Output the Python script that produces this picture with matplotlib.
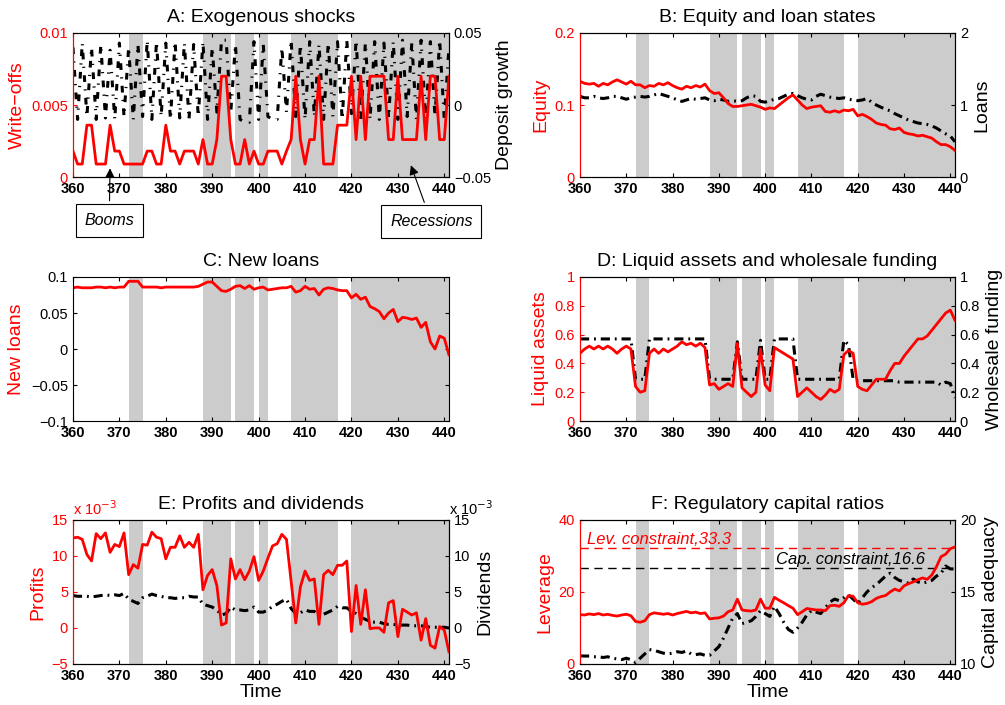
import matplotlib
matplotlib.use('Agg')
import matplotlib.pyplot as plt
import numpy as np

plt.rcParams['font.family'] = ['Liberation Sans', 'DejaVu Sans']
plt.rcParams['xtick.direction'] = 'in'
plt.rcParams['ytick.direction'] = 'in'
plt.rcParams['xtick.major.size'] = 3
plt.rcParams['ytick.major.size'] = 3

# data
time = np.arange(360, 442)
recessions = [(372, 375), (388, 394), (395, 399), (400, 402), (407, 417), (420, 441)]

write_offs = [0.0018, 0.0009, 0.0009, 0.0036, 0.0036, 0.0009, 0.0009, 0.0009, 0.0036, 0.0018,
              0.0018, 0.0009, 0.0009, 0.0009, 0.0009, 0.0009, 0.0018, 0.0018, 0.0009, 0.0009,
              0.0036, 0.0018, 0.0018, 0.0009, 0.0018, 0.0018, 0.0018, 0.0009, 0.0026, 0.0009,
              0.0009, 0.0026, 0.0070, 0.0070, 0.0026, 0.0009, 0.0009, 0.0026, 0.0009, 0.0018,
              0.0009, 0.0009, 0.0018, 0.0018, 0.0018, 0.0009, 0.0018, 0.0026, 0.0070, 0.0026,
              0.0009, 0.0026, 0.0026, 0.0070, 0.0009, 0.0009, 0.0009, 0.0036, 0.0036, 0.0036,
              0.0070, 0.0026, 0.0070, 0.0026, 0.0070, 0.0070, 0.0070, 0.0070, 0.0026, 0.0026,
              0.0070, 0.0026, 0.0026, 0.0026, 0.0026, 0.0070, 0.0026, 0.0070, 0.0070, 0.0026,
              0.0026, 0.0070]
deposit_growth = [0.040, -0.010, 0.043, -0.008, 0.040, -0.010, 0.042, -0.009, 0.038, -0.010,
                  0.043, -0.008, 0.040, -0.010, 0.042, -0.008, 0.045, -0.010, 0.044, -0.008,
                  0.043, -0.010, 0.044, -0.009, 0.043, -0.010, 0.042, -0.008, 0.044, -0.010,
                  0.040, -0.005, 0.045, 0.045, -0.005, 0.042, -0.010, -0.012, -0.012, 0.044,
                  -0.010, 0.042, -0.008, -0.010, -0.010, 0.040, -0.005, 0.045, -0.008, 0.042,
                  -0.010, 0.044, -0.008, 0.042, -0.010, 0.043, -0.008, 0.044, -0.010, 0.045,
                  -0.006, 0.045, -0.010, 0.043, -0.010, 0.044, -0.010, 0.043, -0.009, 0.044,
                  -0.010, 0.045, -0.008, 0.043, -0.010, 0.045, -0.010, 0.044, -0.008, 0.045,
                  -0.010, 0.040]

equity = [0.133, 0.130, 0.129, 0.130, 0.126, 0.130, 0.128, 0.132, 0.135, 0.132,
          0.129, 0.133, 0.128, 0.128, 0.124, 0.127, 0.126, 0.130, 0.128, 0.131,
          0.127, 0.124, 0.122, 0.126, 0.124, 0.127, 0.125, 0.129, 0.120, 0.116,
          0.117, 0.110, 0.102, 0.098, 0.098, 0.099, 0.100, 0.101, 0.099, 0.097,
          0.094, 0.096, 0.095, 0.100, 0.105, 0.110, 0.114, 0.107, 0.100, 0.095,
          0.097, 0.098, 0.099, 0.091, 0.090, 0.092, 0.090, 0.093, 0.092, 0.094,
          0.085, 0.087, 0.084, 0.080, 0.075, 0.073, 0.072, 0.067, 0.066, 0.068,
          0.062, 0.060, 0.059, 0.057, 0.058, 0.056, 0.054, 0.049, 0.045, 0.045,
          0.042, 0.037]
loans = [1.12, 1.10, 1.10, 1.12, 1.10, 1.09, 1.10, 1.12, 1.12, 1.10,
         1.08, 1.10, 1.11, 1.12, 1.11, 1.12, 1.14, 1.16, 1.14, 1.12,
         1.10, 1.07, 1.05, 1.07, 1.09, 1.08, 1.09, 1.10, 1.07, 1.06,
         1.08, 1.07, 1.05, 1.06, 1.05, 1.06, 1.10, 1.13, 1.12, 1.05,
         1.04, 1.06, 1.08, 1.09, 1.12, 1.15, 1.16, 1.13, 1.10, 1.08,
         1.07, 1.12, 1.15, 1.13, 1.11, 1.10, 1.09, 1.10, 1.08, 1.07,
         1.06, 1.07, 1.09, 1.04, 1.00, 0.97, 0.94, 0.92, 0.88, 0.85,
         0.82, 0.79, 0.77, 0.75, 0.74, 0.73, 0.71, 0.68, 0.64, 0.60,
         0.57, 0.49]

new_loans = [0.085, 0.086, 0.085, 0.085, 0.085, 0.086, 0.086, 0.085, 0.086, 0.085,
             0.086, 0.086, 0.094, 0.094, 0.094, 0.086, 0.086, 0.086, 0.086, 0.085,
             0.086, 0.086, 0.086, 0.086, 0.086, 0.086, 0.086, 0.087, 0.090, 0.093,
             0.093, 0.087, 0.081, 0.080, 0.083, 0.087, 0.088, 0.084, 0.088, 0.083,
             0.085, 0.086, 0.082, 0.083, 0.084, 0.085, 0.085, 0.087, 0.079, 0.081,
             0.087, 0.083, 0.084, 0.075, 0.083, 0.085, 0.084, 0.082, 0.081, 0.081,
             0.071, 0.076, 0.069, 0.072, 0.059, 0.056, 0.052, 0.042, 0.050, 0.055,
             0.038, 0.044, 0.043, 0.041, 0.043, 0.030, 0.037, 0.010, 0.000, 0.018,
             0.015, -0.008]

liquid_assets = [0.47, 0.50, 0.52, 0.50, 0.52, 0.50, 0.52, 0.50, 0.47, 0.50,
                 0.52, 0.50, 0.24, 0.20, 0.21, 0.47, 0.50, 0.47, 0.50, 0.48,
                 0.50, 0.52, 0.55, 0.53, 0.54, 0.52, 0.54, 0.51, 0.25, 0.26,
                 0.22, 0.24, 0.26, 0.24, 0.54, 0.23, 0.20, 0.17, 0.20, 0.50,
                 0.25, 0.21, 0.51, 0.49, 0.47, 0.45, 0.43, 0.17, 0.20, 0.23,
                 0.20, 0.17, 0.15, 0.18, 0.22, 0.20, 0.22, 0.46, 0.49, 0.47,
                 0.24, 0.22, 0.21, 0.25, 0.29, 0.29, 0.29, 0.35, 0.40, 0.40,
                 0.45, 0.49, 0.53, 0.57, 0.57, 0.59, 0.63, 0.67, 0.71, 0.75,
                 0.77, 0.70]
wholesale = [0.57, 0.57, 0.57, 0.57, 0.57, 0.57, 0.57, 0.57, 0.57, 0.57,
             0.57, 0.57, 0.29, 0.29, 0.29, 0.57, 0.57, 0.57, 0.57, 0.57,
             0.57, 0.57, 0.57, 0.57, 0.57, 0.57, 0.57, 0.57, 0.29, 0.29,
             0.29, 0.29, 0.29, 0.29, 0.55, 0.29, 0.29, 0.29, 0.29, 0.56,
             0.29, 0.29, 0.57, 0.57, 0.57, 0.57, 0.57, 0.29, 0.29, 0.29,
             0.29, 0.29, 0.29, 0.29, 0.29, 0.29, 0.29, 0.56, 0.53, 0.29,
             0.28, 0.28, 0.28, 0.28, 0.28, 0.28, 0.28, 0.28, 0.28, 0.27,
             0.27, 0.27, 0.27, 0.27, 0.27, 0.27, 0.27, 0.27, 0.25, 0.27,
             0.26, 0.16]

profits_e3 = [12.5, 12.6, 12.3, 10.2, 9.3, 13.1, 12.4, 13.2, 10.5, 11.6,
              11.3, 13.2, 7.4, 8.8, 8.3, 11.6, 11.5, 13.3, 12.6, 12.4,
              9.6, 11.2, 11.2, 12.8, 11.2, 11.9, 11.2, 13.0, 5.3, 7.3,
              8.1, 5.9, 0.4, 0.7, 9.6, 6.8, 8.1, 6.7, 7.9, 9.9,
              6.6, 7.9, 9.7, 11.4, 11.7, 13.0, 12.3, 6.5, 0.7, 5.7,
              7.9, 6.6, 6.8, 0.5, 7.4, 8.0, 7.4, 8.7, 8.7, 9.3,
              -0.5, 5.9, 0.5, 5.3, -0.1, 0.0, 0.0, -0.6, 3.5, 3.8,
              -1.2, 2.6, 2.2, 1.8, 2.1, -1.7, 1.3, -2.4, -2.8, 0.2,
              -0.3, -3.3]
dividends_e3 = [4.5, 4.4, 4.4, 4.4, 4.3, 4.4, 4.5, 4.6, 4.5, 4.6,
                4.5, 4.8, 4.0, 3.7, 3.4, 4.2, 4.4, 4.7, 4.5, 4.4,
                4.2, 4.2, 4.1, 4.2, 4.2, 4.4, 4.3, 4.3, 3.3, 3.1,
                2.9, 2.5, 1.8, 2.0, 2.9, 2.5, 2.5, 2.4, 2.5, 2.9,
                2.2, 2.2, 2.5, 3.0, 3.3, 3.7, 4.0, 2.7, 2.0, 2.1,
                2.5, 2.3, 2.3, 1.5, 1.9, 2.2, 2.5, 3.0, 2.8, 2.8,
                2.3, 2.0, 1.5, 1.2, 0.9, 0.8, 0.8, 0.6, 0.5, 0.5,
                0.4, 0.4, 0.4, 0.3, 0.3, 0.3, 0.2, 0.1, 0.1, 0.1,
                0.1, 0.0]

leverage = [13.7, 13.6, 13.9, 13.7, 14.0, 13.6, 13.8, 13.5, 13.3, 13.6,
            13.8, 13.4, 11.8, 11.6, 12.0, 13.7, 14.2, 14.0, 13.8, 14.0,
            13.6, 14.0, 14.3, 14.6, 14.2, 14.4, 14.0, 14.2, 12.5, 12.7,
            12.8, 13.3, 14.5, 15.0, 18.0, 15.0, 14.8, 14.7, 15.0, 18.0,
            15.5, 15.5, 18.5, 17.7, 17.0, 16.2, 15.5, 13.7, 14.5, 15.4,
            15.2, 15.0, 15.0, 14.8, 16.2, 16.3, 16.0, 17.0, 19.0, 18.8,
            17.0, 16.6, 16.8, 17.3, 18.2, 18.7, 19.0, 20.0, 20.8, 20.3,
            21.7, 22.3, 22.8, 23.4, 23.9, 23.5, 24.7, 27.0, 29.8, 30.5,
            32.0, 32.5]
capital_adequacy = [10.56, 10.55, 10.55, 10.50, 10.50, 10.45, 10.50, 10.40, 10.35, 10.30,
                    10.40, 10.30, 10.10, 10.40, 10.70, 11.00, 10.95, 10.85, 10.75, 10.70,
                    10.75, 10.85, 10.80, 10.90, 10.70, 10.65, 10.70, 10.60, 10.60, 10.90,
                    11.20, 11.80, 12.50, 13.20, 13.50, 12.80, 12.90, 13.00, 13.30, 13.70,
                    13.50, 13.30, 14.00, 13.50, 12.90, 12.40, 12.20, 12.50, 12.90, 13.40,
                    13.70, 13.60, 13.50, 13.90, 14.30, 14.50, 14.40, 14.60, 14.80, 14.50,
                    14.20, 14.60, 15.00, 15.30, 15.50, 15.80, 16.10, 16.30, 16.00, 15.80,
                    15.70, 15.60, 15.90, 15.70, 15.60, 15.70, 15.80, 16.10, 16.30, 16.80,
                    16.60, 16.60]
lev_line = 32.3
cap_line = 16.65

RED = '#ff0000'
GREY = '#cccccc'
DASHDOT = (0, (3, 1.6, 0.6, 1.6))
TITLE_FS = 14
LABEL_FS = 14
TICK_FS = 10.5

fig = plt.figure(figsize=(10.05, 7.05), dpi=100)

lefts = [0.0726, 0.5771]
widths = [0.3741, 0.3731]
bottoms = [0.7489, 0.4028, 0.0582]
height = 0.2043


def make_axes(row, col, title, left_label, right_label=None):
    ax = fig.add_axes([lefts[col], bottoms[row], widths[col], height])
    ax.set_xlim(360, 441)
    ax.set_xticks(range(360, 441, 10))
    ax.tick_params(axis='x', labelsize=TICK_FS, top=True)
    for lbl in ax.get_xticklabels():
        lbl.set_fontweight('bold')
    ax.set_title(title, fontsize=TITLE_FS, pad=8)
    ax.set_ylabel(left_label, fontsize=LABEL_FS, color=RED, labelpad=4)
    ax2 = None
    back = ax
    if right_label is not None:
        ax2 = ax.twinx()
        ax2.set_xlim(360, 441)
        ax2.set_ylabel(right_label, fontsize=LABEL_FS, color='black', labelpad=4)
        ax2.tick_params(axis='y', labelsize=TICK_FS)
        ax.tick_params(axis='y', labelsize=TICK_FS, colors=RED)
        ax2.spines['left'].set_color(RED)
        ax.spines['left'].set_color(RED)
        # red series on top of the black one, shading at the back
        ax.set_zorder(ax2.get_zorder() + 1)
        ax.patch.set_visible(False)
        ax2.patch.set_visible(True)
        ax2.patch.set_facecolor('white')
        back = ax2
    else:
        ax.tick_params(axis='y', labelsize=TICK_FS, right=True)
    for a, b in recessions:
        back.axvspan(a, b, color=GREY, lw=0, zorder=0)
    return ax, ax2


# A: Exogenous shocks
ax, ax2 = make_axes(0, 0, 'A: Exogenous shocks', 'Write\u2212offs', 'Deposit growth')
ax2.plot(time, deposit_growth, color='black', lw=2.2, ls=(0, (2.2, 2.4, 0.4, 2.4)))
ax.plot(time, write_offs, color=RED, lw=2)
ax.set_ylim(0, 0.01)
ax.set_yticks([0, 0.005, 0.01], ['0', '0.005', '0.01'])
ax2.set_ylim(-0.05, 0.05)
ax2.set_yticks([-0.05, 0, 0.05], ['\u22120.05', '0', '0.05'])
box = dict(boxstyle='square,pad=0.55', fc='white', ec='black', lw=0.8)
arrow = dict(arrowstyle='-|>', color='black', lw=0.8, mutation_scale=14)
ax.annotate('Booms', xy=(368, 0.0008), xytext=(367.8, -0.0030), fontsize=11.5,
            style='italic', ha='center', va='center', bbox=box, arrowprops=arrow,
            annotation_clip=False)
ax.annotate('Recessions', xy=(432.6, 0.0010), xytext=(437.2, -0.0031), fontsize=11.5,
            style='italic', ha='center', va='center', bbox=box, arrowprops=arrow,
            annotation_clip=False)

# B: Equity and loan states
ax, ax2 = make_axes(0, 1, 'B: Equity and loan states', 'Equity', 'Loans')
ax.plot(time, equity, color=RED, lw=2)
ax2.plot(time, loans, color='black', lw=2.2, ls=DASHDOT)
ax.set_ylim(0, 0.2)
ax.set_yticks([0, 0.1, 0.2], ['0', '0.1', '0.2'])
ax2.set_ylim(0, 2)
ax2.set_yticks([0, 1, 2], ['0', '1', '2'])

# C: New loans
ax, _ = make_axes(1, 0, 'C: New loans', 'New loans')
ax.plot(time, new_loans, color=RED, lw=2)
ax.set_ylim(-0.1, 0.1)
ax.set_yticks([-0.1, -0.05, 0, 0.05, 0.1], ['\u22120.1', '\u22120.05', '0', '0.05', '0.1'])

# D: Liquid assets and wholesale funding
ax, ax2 = make_axes(1, 1, 'D: Liquid assets and wholesale funding', 'Liquid assets', 'Wholesale funding')
ax.plot(time, liquid_assets, color=RED, lw=2)
ax2.plot(time, wholesale, color='black', lw=2.2, ls=DASHDOT)
ticks = [0, 0.2, 0.4, 0.6, 0.8, 1]
tlabels = ['0', '0.2', '0.4', '0.6', '0.8', '1']
ax.set_ylim(0, 1)
ax.set_yticks(ticks, tlabels)
ax2.set_ylim(0, 1)
ax2.set_yticks(ticks, tlabels)

# E: Profits and dividends
ax, ax2 = make_axes(2, 0, 'E: Profits and dividends', 'Profits', 'Dividends')
ax.plot(time, profits_e3, color=RED, lw=2)
ax2.plot(time, dividends_e3, color='black', lw=2.2, ls=DASHDOT)
eticks = [-5, 0, 5, 10, 15]
elabels = ['\u22125', '0', '5', '10', '15']
ax.set_ylim(-5, 15)
ax.set_yticks(eticks, elabels)
ax2.set_ylim(-5, 15)
ax2.set_yticks(eticks, elabels)
ax.text(0.0, 1.015, 'x 10$^{-3}$', transform=ax.transAxes, color=RED, fontsize=10.5,
        ha='left', va='bottom')
ax.text(1.0, 1.015, 'x 10$^{-3}$', transform=ax.transAxes, color='black', fontsize=10.5,
        ha='left', va='bottom')
ax.set_xlabel('Time', fontsize=LABEL_FS, labelpad=1)

# F: Regulatory capital ratios
ax, ax2 = make_axes(2, 1, 'F: Regulatory capital ratios', 'Leverage', 'Capital adequacy')
ax.plot(time, leverage, color=RED, lw=2)
ax.axhline(lev_line, color=RED, lw=1, ls=(0, (6, 4)))
ax2.plot(time, capital_adequacy, color='black', lw=2.2, ls=DASHDOT)
ax2.axhline(cap_line, color='black', lw=1, ls=(0, (6, 4)))
ax.set_ylim(0, 40)
ax.set_yticks([0, 20, 40], ['0', '20', '40'])
ax2.set_ylim(10, 20)
ax2.set_yticks([10, 15, 20], ['10', '15', '20'])
ax.text(361.5, lev_line + 0.3, 'Lev. constraint,33.3', color=RED, fontsize=12,
        style='italic', ha='left', va='bottom')
ax2.text(434.5, cap_line + 0.1, 'Cap. constraint,16.6', color='black', fontsize=12,
         style='italic', ha='right', va='bottom')
ax.set_xlabel('Time', fontsize=LABEL_FS, labelpad=1)

fig.savefig('out.png', dpi=100)
